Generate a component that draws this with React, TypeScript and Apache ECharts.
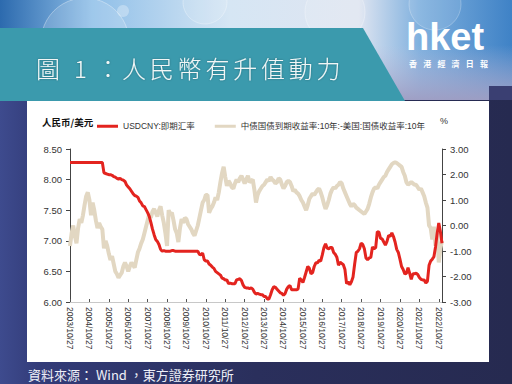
import React, { useEffect, useRef } from "react";
import * as echarts from "echarts";

const FONT = "'Liberation Sans', Arial, 'Noto Sans CJK SC', sans-serif";
const CJK_TC = "'Noto Sans CJK TC', 'Noto Sans CJK SC', sans-serif";

const titleText = "圖 1 ：人民幣有升值動力";
const footerText = "資料來源： Wind ，東方證券研究所";
const leftAxisName = "人民币/美元";
const rightAxisName = "%";
const seriesNames = ["USDCNY:即期汇率", "中债国债到期收益率:10年:-美国:国债收益率:10年"];

// Monthly categories, 2003/10/27 .. 2022/12/27
const firstYear = 2003;
const firstMonth = 10;
const monthCount = 231;
const categories: string[] = [];
for (let i = 0; i < monthCount; i++) {
  const m0 = firstMonth - 1 + i;
  categories.push(`${firstYear + Math.floor(m0 / 12)}/${(m0 % 12) + 1}/27`);
}

// USDCNY spot (left axis), monthly
const usdcny2003 = [8.28, 8.28, 8.28];
const usdcny2004 = [8.28, 8.28, 8.28, 8.28, 8.28, 8.28, 8.28, 8.28, 8.28, 8.28, 8.28, 8.28];
const usdcny2005 = [8.28, 8.28, 8.28, 8.28, 8.28, 8.28, 8.11, 8.1, 8.09, 8.08, 8.08, 8.07];
const usdcny2006 = [8.05, 8.04, 8.02, 8.01, 8.02, 8.0, 7.99, 7.97, 7.91, 7.88, 7.85, 7.81];
const usdcny2007 = [7.77, 7.74, 7.73, 7.71, 7.65, 7.62, 7.57, 7.56, 7.51, 7.46, 7.4, 7.3];
const usdcny2008 = [7.19, 7.1, 7.02, 6.99, 6.94, 6.86, 6.83, 6.84, 6.83, 6.83, 6.83, 6.83];
const usdcny2009 = [6.84, 6.84, 6.83, 6.83, 6.83, 6.83, 6.83, 6.83, 6.83, 6.83, 6.83, 6.83];
const usdcny2010 = [6.83, 6.83, 6.83, 6.83, 6.83, 6.78, 6.77, 6.8, 6.69, 6.67, 6.67, 6.62];
const usdcny2011 = [6.6, 6.57, 6.55, 6.5, 6.48, 6.46, 6.44, 6.39, 6.38, 6.36, 6.36, 6.3];
const usdcny2012 = [6.31, 6.3, 6.3, 6.3, 6.36, 6.37, 6.38, 6.35, 6.28, 6.24, 6.23, 6.23];
const usdcny2013 = [6.22, 6.23, 6.21, 6.16, 6.13, 6.14, 6.13, 6.12, 6.12, 6.09, 6.09, 6.05];
const usdcny2014 = [6.05, 6.12, 6.2, 6.25, 6.24, 6.21, 6.18, 6.15, 6.14, 6.11, 6.14, 6.21];
const usdcny2015 = [6.25, 6.27, 6.2, 6.2, 6.2, 6.2, 6.21, 6.39, 6.36, 6.32, 6.4, 6.49];
const usdcny2016 = [6.58, 6.55, 6.46, 6.48, 6.58, 6.64, 6.64, 6.68, 6.67, 6.77, 6.89, 6.95];
const usdcny2017 = [6.88, 6.87, 6.89, 6.89, 6.81, 6.78, 6.73, 6.6, 6.65, 6.63, 6.61, 6.53];
const usdcny2018 = [6.3, 6.33, 6.28, 6.33, 6.41, 6.62, 6.81, 6.83, 6.87, 6.96, 6.94, 6.87];
const usdcny2019 = [6.72, 6.69, 6.72, 6.73, 6.9, 6.87, 6.89, 7.15, 7.14, 7.04, 7.03, 6.98];
const usdcny2020 = [6.93, 6.99, 7.09, 7.07, 7.13, 7.07, 6.98, 6.86, 6.81, 6.7, 6.58, 6.53];
const usdcny2021 = [6.46, 6.47, 6.56, 6.47, 6.37, 6.46, 6.46, 6.47, 6.45, 6.4, 6.37, 6.36];
const usdcny2022 = [6.36, 6.31, 6.34, 6.6, 6.67, 6.7, 6.74, 6.9, 7.12, 7.29, 7.15, 6.96];

// China 10Y - US 10Y yield spread (right axis, %), monthly
const spread2003 = [-0.8, -0.3, 0.0];
const spread2004 = [-0.4, -0.7, -0.1, 0.25, 0.1, 0.4, 0.8, 1.15, 1.3, 1.0, 0.4, 0.9];
const spread2005 = [0.6, 0.2, -0.1, 0.1, -0.05, -0.15, -0.9, -0.6, -0.8, -1.1, -1.35, -1.2];
const spread2006 = [-1.5, -1.8, -1.9, -2.05, -1.95, -1.85, -1.6, -1.45, -1.6, -1.8, -1.6, -1.45];
const spread2007 = [-1.55, -1.65, -1.35, -1.05, -0.9, -0.7, -0.55, -0.3, -0.05, 0.2, 0.45, 0.3];
const spread2008 = [0.55, 0.65, 0.5, 0.35, 0.6, 0.75, 0.4, 0.1, -0.3, -0.8, 0.6, 0.45];
const spread2009 = [0.5, 0.2, -0.15, -0.3, -0.65, -0.1, 0.25, 0.1, 0.3, 0.25, 0.05, -0.05];
const spread2010 = [-0.15, -0.3, -0.4, -0.2, 0.0, 0.3, 0.6, 0.9, 1.0, 1.2, 1.2, 0.5];
const spread2011 = [0.65, 0.75, 0.9, 1.1, 1.0, 1.3, 1.7, 2.05, 2.3, 1.9, 1.55, 1.75];
const spread2012 = [1.65, 1.5, 1.45, 1.65, 1.8, 1.7, 1.85, 1.95, 1.8, 1.65, 1.8, 1.95];
const spread2013 = [1.7, 1.75, 1.8, 1.4, 0.9, 1.2, 1.35, 1.45, 1.55, 1.6, 1.7, 1.8];
const spread2014 = [1.75, 1.9, 1.8, 1.75, 1.65, 1.7, 1.85, 1.8, 1.6, 1.45, 1.55, 1.7];
const spread2015 = [1.75, 1.7, 1.55, 1.35, 1.4, 1.3, 1.25, 1.15, 1.0, 0.9, 0.75, 0.6];
const spread2016 = [0.8, 1.05, 1.15, 1.25, 1.2, 1.3, 1.4, 1.45, 1.3, 1.1, 0.85, 0.65];
const spread2017 = [0.8, 1.0, 1.25, 1.4, 1.5, 1.45, 1.55, 1.6, 1.7, 1.65, 1.45, 1.3];
const spread2018 = [1.15, 1.0, 0.85, 0.75, 0.85, 0.8, 0.7, 0.65, 0.6, 0.55, 0.5, 0.45];
const spread2019 = [0.55, 0.65, 0.85, 1.1, 1.3, 1.45, 1.5, 1.45, 1.6, 1.7, 1.8, 1.9];
const spread2020 = [1.95, 2.1, 2.2, 2.3, 2.4, 2.45, 2.48, 2.45, 2.4, 2.35, 2.3, 2.1];
const spread2021 = [1.95, 1.7, 1.6, 1.65, 1.7, 1.65, 1.6, 1.6, 1.5, 1.4, 1.45, 1.3];
const spread2022 = [1.15, 0.9, 0.7, 0.0, -0.1, -0.55, -0.05, -0.8, -0.3, -1.45, -0.9, -0.6];

const usdcny = [
  ...usdcny2003, ...usdcny2004, ...usdcny2005, ...usdcny2006, ...usdcny2007, ...usdcny2008,
  ...usdcny2009, ...usdcny2010, ...usdcny2011, ...usdcny2012, ...usdcny2013, ...usdcny2014,
  ...usdcny2015, ...usdcny2016, ...usdcny2017, ...usdcny2018, ...usdcny2019, ...usdcny2020,
  ...usdcny2021, ...usdcny2022,
];
const spread = [
  ...spread2003, ...spread2004, ...spread2005, ...spread2006, ...spread2007, ...spread2008,
  ...spread2009, ...spread2010, ...spread2011, ...spread2012, ...spread2013, ...spread2014,
  ...spread2015, ...spread2016, ...spread2017, ...spread2018, ...spread2019, ...spread2020,
  ...spread2021, ...spread2022,
];

const RED = "#e3241f";
const BEIGE = "#e2d7c2";

export default function App() {
  const ref = useRef<HTMLDivElement>(null);
  useEffect(() => {
    if (!ref.current) return;
    const chart = echarts.init(ref.current, undefined, { renderer: "svg" });

    const titleChars = "人民幣有升值動力".split("");
    const logoChars = "香港經濟日報".split("");
    const titleStyle = {
      fill: "#f2f6f6",
      font: `300 24px ${CJK_TC}`,
      textVerticalAlign: "middle",
      textShadowColor: "rgba(0,0,0,0.3)",
      textShadowBlur: 2,
    };

    const graphic: any[] = [
      // page background (navy)
      {
        type: "rect", z: -20, silent: true,
        shape: { x: 0, y: 0, width: 512, height: 384 },
        style: {
          fill: {
            type: "linear", x: 0, y: 0, x2: 1, y2: 0,
            colorStops: [
              { offset: 0, color: "#3e4b8e" },
              { offset: 0.08, color: "#323b78" },
              { offset: 0.5, color: "#2a2f5c" },
              { offset: 1, color: "#262a50" },
            ],
          },
        },
      },
      // banner
      {
        type: "rect", z: -19, silent: true,
        shape: { x: 0, y: 0, width: 512, height: 100 },
        style: {
          fill: {
            type: "linear", x: 0, y: 0, x2: 1, y2: 0,
            colorStops: [
              { offset: 0, color: "#2c6aae" },
              { offset: 0.18, color: "#8fbfe8" },
              { offset: 0.45, color: "#d6e6f4" },
              { offset: 0.7, color: "#dfe5f1" },
              { offset: 0.82, color: "#7fb0de" },
              { offset: 1, color: "#3f82c6" },
            ],
          },
        },
      },
      {
        type: "rect", z: -18, silent: true,
        shape: { x: 370, y: 45, width: 142, height: 55 },
        style: {
          fill: {
            type: "linear", x: 0, y: 0, x2: 0, y2: 1,
            colorStops: [
              { offset: 0, color: "rgba(190,190,220,0)" },
              { offset: 1, color: "rgba(160,158,195,0.95)" },
            ],
          },
        },
      },
      {
        type: "rect", z: -18, silent: true,
        shape: { x: 489, y: 86, width: 23, height: 14 },
        style: { fill: "#3a3f72" },
      },
      // bubbles
      { type: "circle", z: -17, silent: true, shape: { cx: 85, cy: 42, r: 44 }, style: { fill: "rgba(255,255,255,0.14)", stroke: "rgba(255,255,255,0.35)", lineWidth: 1 } },
      { type: "circle", z: -17, silent: true, shape: { cx: 123, cy: 11, r: 6 }, style: { fill: "rgba(255,255,255,0.3)" } },
      { type: "circle", z: -17, silent: true, shape: { cx: 205, cy: 2, r: 22 }, style: { fill: "rgba(255,255,255,0.12)", stroke: "rgba(255,255,255,0.3)", lineWidth: 1 } },
      { type: "circle", z: -17, silent: true, shape: { cx: 335, cy: 12, r: 30 }, style: { fill: "rgba(255,255,255,0.12)", stroke: "rgba(255,255,255,0.3)", lineWidth: 1 } },
      { type: "circle", z: -17, silent: true, shape: { cx: 435, cy: 4, r: 26 }, style: { fill: "rgba(255,255,255,0.1)", stroke: "rgba(255,255,255,0.25)", lineWidth: 1 } },
      // teal title box
      {
        type: "polygon", z: -16, silent: true,
        shape: { points: [[0, 28], [363, 28], [405, 101], [0, 101]] },
        style: { fill: "#3b9aad" },
      },
      // white panel
      {
        type: "rect", z: -15, silent: true,
        shape: { x: 27, y: 101, width: 462, height: 261 },
        style: { fill: "#ffffff" },
      },
      // title
      { type: "text", z: 10, silent: true, x: 36, y: 67, style: { ...titleStyle, text: "圖" } },
      { type: "text", z: 10, silent: true, x: 74, y: 67, style: { ...titleStyle, text: "1" } },
      { type: "text", z: 10, silent: true, x: 96, y: 67, style: { ...titleStyle, text: "：" } },
      ...titleChars.map((c, i) => ({
        type: "text", z: 10, silent: true, x: 122 + i * 27.8, y: 67,
        style: { ...titleStyle, text: c },
      })),
      // hket logo
      {
        type: "text", z: 10, silent: true, x: 406, y: 56,
        style: { text: "hket", fill: "#ffffff", font: `bold 38px 'Liberation Sans', Arial, sans-serif`, textVerticalAlign: "bottom" },
      },
      ...logoChars.map((c, i) => ({
        type: "text", z: 10, silent: true, x: 409 + i * 14.2, y: 63,
        style: { text: c, fill: "#ffffff", font: `bold 8px ${CJK_TC}`, textVerticalAlign: "middle" },
      })),
      // footer
      {
        type: "text", z: 10, silent: true, x: 28, y: 374,
        style: { text: footerText, fill: "#eef0f8", font: `normal 13px ${CJK_TC}`, textVerticalAlign: "middle" },
      },
      // axis names
      {
        type: "text", z: 10, silent: true, x: 42, y: 122,
        style: { text: leftAxisName, fill: "#111", font: `bold 9.5px 'Noto Sans CJK SC', sans-serif`, textVerticalAlign: "middle" },
      },
      {
        type: "text", z: 10, silent: true, x: 440, y: 121,
        style: { text: rightAxisName, fill: "#333", font: `normal 9px ${FONT}`, textVerticalAlign: "middle" },
      },
    ];

    const option: any = {
      animation: false,
      textStyle: { fontFamily: FONT },
      graphic,
      legend: {
        left: 97,
        top: 122,
        padding: 0,
        icon: "rect",
        itemWidth: 21,
        itemHeight: 3,
        itemGap: 20,
        data: [seriesNames[0], seriesNames[1]],
        textStyle: { fontSize: 8.5, color: "#333", fontFamily: "'Liberation Sans', 'Noto Sans CJK SC', sans-serif" },
      },
      grid: { left: 70, right: 70, top: 149, bottom: 82 },
      xAxis: {
        type: "category",
        data: categories,
        boundaryGap: false,
        axisLine: { onZero: false, lineStyle: { color: "#c8c8c8" } },
        axisTick: { inside: true, length: 3, interval: 11, lineStyle: { color: "#555" } },
        axisLabel: { interval: 11, rotate: -90, fontSize: 8.5, color: "#333", margin: 5 },
        splitLine: { show: false },
      },
      yAxis: [
        {
          type: "value", position: "left", min: 6, max: 8.5, interval: 0.5,
          axisLine: { show: true, lineStyle: { color: "#444" } },
          axisTick: { show: true, length: 4, lineStyle: { color: "#444" } },
          splitLine: { show: false },
          axisLabel: { fontSize: 9.5, color: "#333", margin: 8, formatter: (v: number) => v.toFixed(2) },
        },
        {
          type: "value", position: "right", min: -3, max: 3, interval: 1,
          axisLine: { show: true, lineStyle: { color: "#444" } },
          axisTick: { show: true, length: 4, lineStyle: { color: "#444" } },
          splitLine: { show: false },
          axisLabel: { fontSize: 9.5, color: "#333", margin: 8, formatter: (v: number) => v.toFixed(2) },
        },
      ],
      series: [
        {
          name: seriesNames[1], type: "line", yAxisIndex: 1, data: spread,
          showSymbol: false, symbol: "none", z: 2,
          lineStyle: { width: 4, color: BEIGE }, itemStyle: { color: BEIGE },
        },
        {
          name: seriesNames[0], type: "line", yAxisIndex: 0, data: usdcny,
          showSymbol: false, symbol: "none", z: 3,
          lineStyle: { width: 3, color: RED }, itemStyle: { color: RED },
        },
      ],
    };
    chart.setOption(option);
    return () => chart.dispose();
  }, []);

  return (
    <div
      ref={ref}
      style={{ position: "absolute", left: 0, top: 0, width: 512, height: 384 }}
    />
  );
}
